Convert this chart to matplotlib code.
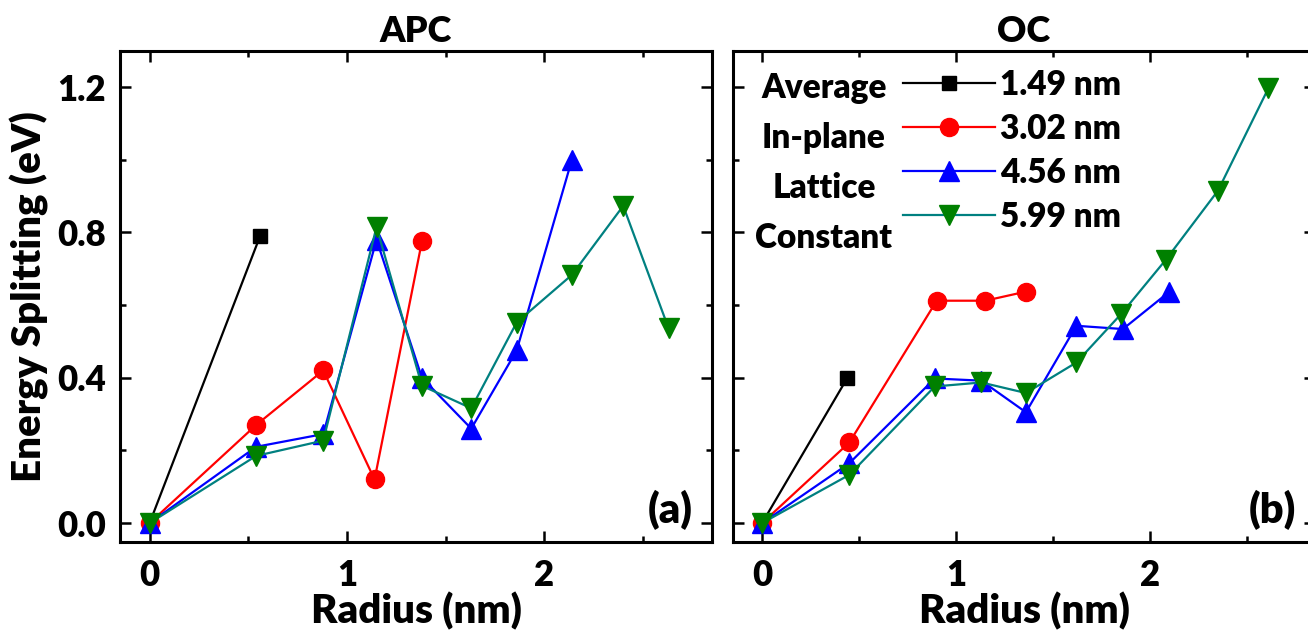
import matplotlib
matplotlib.use('Agg')
import matplotlib.pyplot as plt
from matplotlib.ticker import MultipleLocator, FormatStrFormatter

plt.rcParams['font.family'] = ['Lato', 'DejaVu Sans']
plt.rcParams['font.weight'] = 'heavy'
plt.rcParams['axes.labelweight'] = 'heavy'
plt.rcParams['axes.titleweight'] = 'heavy'

# APC panel (a)
apc_avg_x = [0, 0.56]
apc_avg_y = [0, 0.79]
apc_inp_x = [0, 0.54, 0.88, 1.14, 1.38]
apc_inp_y = [0, 0.27, 0.42, 0.12, 0.775]
apc_lat_x = [0, 0.54, 0.88, 1.15, 1.38, 1.63, 1.86, 2.14]
apc_lat_y = [0, 0.21, 0.245, 0.78, 0.40, 0.26, 0.475, 1.0]
apc_con_x = [0, 0.54, 0.88, 1.15, 1.38, 1.63, 1.86, 2.14, 2.40, 2.63]
apc_con_y = [0, 0.185, 0.227, 0.815, 0.378, 0.316, 0.552, 0.683, 0.873, 0.536]

# OC panel (b)
oc_avg_x = [0, 0.44]
oc_avg_y = [0, 0.40]
oc_inp_x = [0, 0.45, 0.90, 1.15, 1.36]
oc_inp_y = [0, 0.222, 0.612, 0.612, 0.637]
oc_lat_x = [0, 0.45, 0.89, 1.13, 1.36, 1.62, 1.86, 2.10]
oc_lat_y = [0, 0.165, 0.398, 0.392, 0.305, 0.543, 0.534, 0.637]
oc_con_x = [0, 0.45, 0.89, 1.13, 1.36, 1.62, 1.85, 2.08, 2.35, 2.61]
oc_con_y = [0, 0.133, 0.376, 0.387, 0.358, 0.442, 0.575, 0.724, 0.915, 1.197]

sizes = ['1.49 nm', '3.02 nm', '4.56 nm', '5.99 nm']
words = ['Average', 'In-plane', 'Lattice', 'Constant']
titles = ['APC', 'OC']
tags = ['(a)', '(b)']

styles = [
    dict(color='black', marker='s', ms=10, mfc='black', mec='black'),
    dict(color='#FF0000', marker='o', ms=13, mfc='#FF0000', mec='#FF0000'),
    dict(color='#0000FF', marker='^', ms=14, mfc='#0000FF', mec='#0000FF'),
    dict(color='#008080', marker='v', ms=14, mfc='#008000', mec='#008000'),
]

fig = plt.figure(figsize=(13.08, 6.35), dpi=100)
ax1 = fig.add_axes([120/1308, 93/635, 592/1308, 491.3/635])
ax2 = fig.add_axes([733/1308, 93/635, 582/1308, 491.3/635])

panels = [
    (ax1, [(apc_avg_x, apc_avg_y), (apc_inp_x, apc_inp_y), (apc_lat_x, apc_lat_y), (apc_con_x, apc_con_y)]),
    (ax2, [(oc_avg_x, oc_avg_y), (oc_inp_x, oc_inp_y), (oc_lat_x, oc_lat_y), (oc_con_x, oc_con_y)]),
]

for i, (ax, series) in enumerate(panels):
    lines = []
    for (x, y), st, lab in zip(series, styles, sizes):
        l, = ax.plot(x, y, lw=1.6, label=lab, **st)
        lines.append(l)
    ax.set_xlim(-0.15, 2.85)
    ax.set_ylim(-0.052, 1.30)
    ax.xaxis.set_major_locator(MultipleLocator(1))
    ax.xaxis.set_minor_locator(MultipleLocator(0.5))
    ax.yaxis.set_major_locator(MultipleLocator(0.4))
    ax.yaxis.set_minor_locator(MultipleLocator(0.2))
    ax.tick_params(which='both', direction='in', top=True, right=True, width=1.8)
    ax.tick_params(which='major', length=8)
    ax.tick_params(which='minor', length=4.5)
    ax.tick_params(axis='both', labelsize=25)
    ax.tick_params(axis='x', pad=12)
    ax.tick_params(axis='y', pad=10)
    for s in ax.spines.values():
        s.set_linewidth(2.2)
    ax.set_xlabel('Radius (nm)', fontsize=29, labelpad=0)
    ax.set_title(titles[i], fontsize=26, pad=6)
    ax.text(0.967, 0.065, tags[i], transform=ax.transAxes, ha='right', va='center',
            fontsize=30)

ax1.yaxis.set_major_formatter(FormatStrFormatter('%.1f'))
ax1.set_ylabel('Energy Splitting (eV)', fontsize=29, labelpad=6)
ax2.tick_params(labelleft=False)

leg = ax2.legend(handles=lines, loc='upper left', bbox_to_anchor=(903/1308, 1 - 69/635),
                 bbox_transform=fig.transFigure, frameon=False, fontsize=24,
                 handlelength=2.75, handletextpad=0.15, labelspacing=0.36,
                 borderpad=0, borderaxespad=0)

for j, w in enumerate(words):
    fig.text(824/1308, 1 - (88 + 50*j)/635, w, ha='center', va='center',
             fontsize=24)

fig.savefig('out.png', dpi=100)
